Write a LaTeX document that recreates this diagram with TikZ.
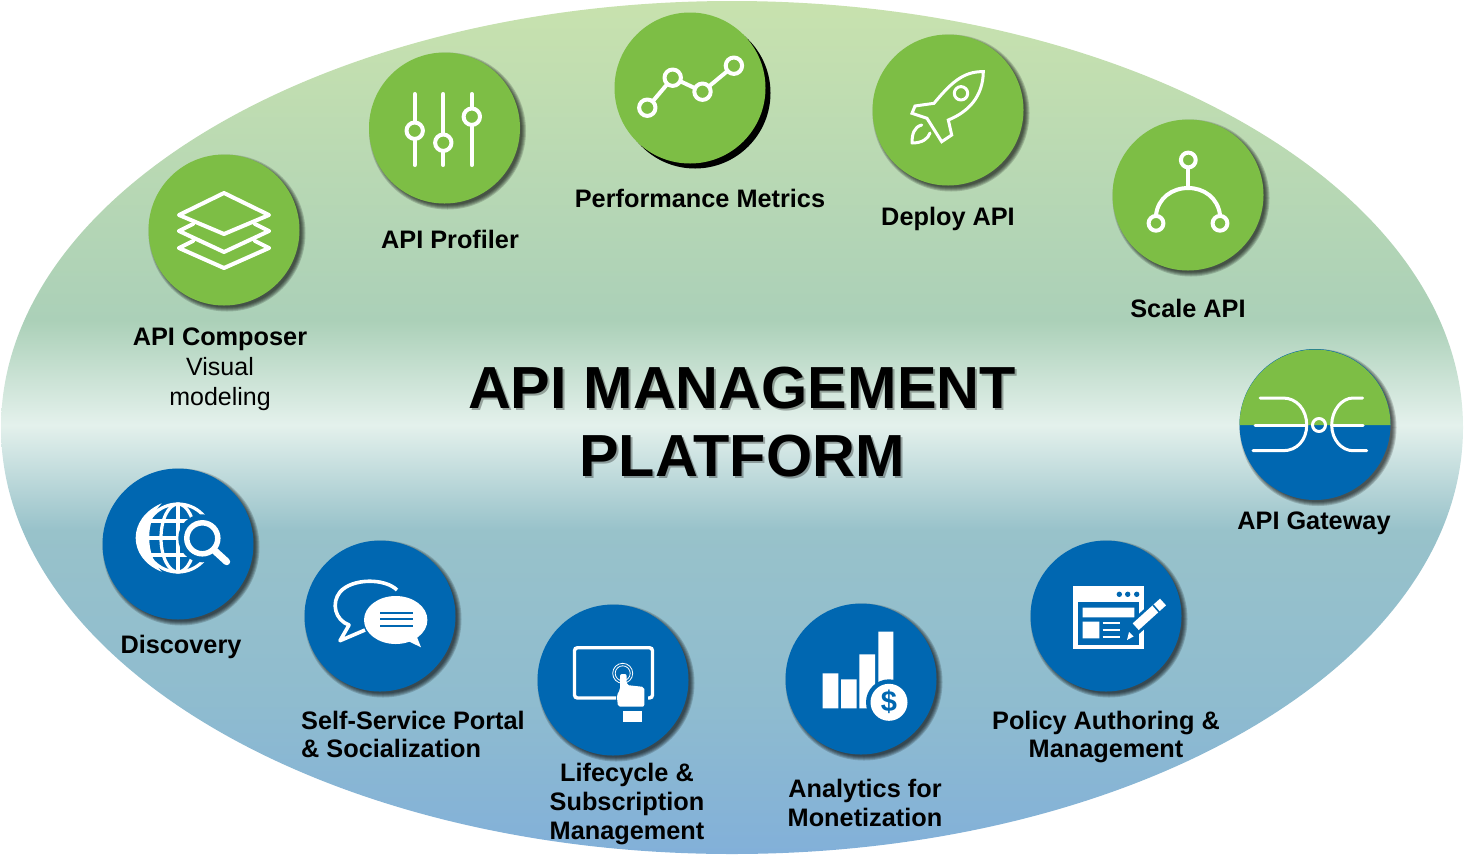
\documentclass[tikz,border=0pt]{standalone}
\usepackage{fontspec}
\setmainfont{Liberation Sans}
\definecolor{grn}{HTML}{7DBE45}
\definecolor{blu}{HTML}{0067B1}
\definecolor{gA}{HTML}{C8E2AE}
\definecolor{gB}{HTML}{ABD0B8}
\definecolor{gC}{HTML}{E4F1EC}
\definecolor{gE}{HTML}{98C2CA}
\definecolor{gF}{HTML}{8FBCCF}
\definecolor{gG}{HTML}{82B0D9}
\pgfdeclareverticalshading{bgshade}{100bp}{
 color(0bp)=(gG); color(25bp)=(gG); color(34bp)=(gF); color(44bp)=(gE); color(50.15bp)=(gC);
 color(56.3bp)=(gB); color(75bp)=(gA); color(100bp)=(gA)}
\tikzset{
 x=1pt,y=-1pt,
 disc/.style={circle,draw=none,inner sep=0pt,minimum size=151pt},
 lab/.style={inner sep=0pt,align=center,font=\fontsize{25.3}{28.7}\selectfont\bfseries,text=black},
 plain/.style={inner sep=0pt,align=center,font=\fontsize{25}{30}\selectfont,text=black},
 ttl/.style={inner sep=0pt,align=center,font=\fontsize{59.4}{68}\selectfont\bfseries},
 ico/.style={draw=white,line width=4pt,line cap=round,line join=round},
}
\newcommand{\softshadow}[2]{%
 \foreach \rr in {78.5,77.5,76.5,75.5,74.5}{\fill[black,opacity=0.17] (#1+3,#2+3) circle[radius=\rr];}}
\newcommand{\ringat}[3]{\draw[ico,fill=#3] (#1,#2) circle[radius=8.2];}
\newcommand{\smallringat}[3]{\draw[ico,fill=#3] (#1,#2) circle[radius=7.4];}
\begin{document}
\begin{tikzpicture}
\useasboundingbox (0,0) rectangle (1464,855);
\path[shading=bgshade] (732,427.5) ellipse[x radius=731,y radius=426.5];
% title
\node[ttl,text=black,opacity=.3] (titleshadow) at (744,424) {API MANAGEMENT\\PLATFORM};
\node[ttl,text=black] (title) at (742,422) {API MANAGEMENT\\PLATFORM};
% ---- API Composer
\softshadow{224}{230}
\node[disc,fill=grn] (composer) at (224,230) {};
\begin{scope}[ico]
\draw (179,248) -- (193,241) (269,248) -- (255,241) (179,248) -- (224,268) -- (269,248);
\draw (179,231) -- (193,224) (269,231) -- (255,224) (179,231) -- (224,252) -- (269,231);
\draw (224,193) -- (269,215) -- (224,234) -- (179,215) -- cycle;
\end{scope}
\node[lab] (composerL) at (220,339) {API Composer};
\node[plain] (composerS) at (220,384) {Visual\\modeling};
% ---- Profiler
\softshadow{444.5}{128}
\node[disc,fill=grn] (profiler) at (444.5,128) {};
\draw[ico] (414.7,94) -- (414.7,165) (443.3,94) -- (443.3,165) (471.8,94) -- (471.8,165);
\ringat{414.7}{130.7}{grn}\ringat{443.3}{142.7}{grn}\ringat{471.8}{116.7}{grn}
\node[lab] (profilerL) at (450,239) {API Profiler};
% ---- Performance
\fill[black] (695,93) circle[radius=75.5];
\node[disc,fill=grn] (perf) at (690,88) {};
\draw[ico] (647.3,107.7) -- (672.7,77.7) -- (702.5,91.7) -- (733.9,65.7);
\ringat{647.3}{107.7}{grn}\ringat{672.7}{77.7}{grn}\ringat{702.5}{91.7}{grn}\ringat{733.9}{65.7}{grn}
\node[lab] (perfL) at (700,198) {Performance Metrics};
% ---- Deploy
\softshadow{948}{110}
\node[disc,fill=grn] (deploy) at (948,110) {};
\draw[ico,line width=3pt,line cap=butt,line join=miter] (983.3,71.7) .. controls (963,71) and (950,84) .. (934,103.3) -- (915,106) -- (912,113.3) -- (927,118.3) -- (941.7,141.7) -- (951.7,135) -- (948.3,120) .. controls (968,112) and (983,97) .. cycle;
\draw[ico,line width=3pt] (961,93.3) circle[radius=6.7];
\draw[ico,line width=3pt] (921.7,125) .. controls (914,127) and (912,134) .. (912,143) .. controls (922,143) and (928,139) .. (930,133);
\node[lab] (deployL) at (948,219) {Deploy API};
% ---- Scale
\softshadow{1188}{195}
\node[disc,fill=grn] (scale) at (1188,195) {};
\draw[ico] (1188.3,168) -- (1188.3,188);
\draw[ico] (1156,215) .. controls (1158,198) and (1172,188) .. (1188.3,188) .. controls (1204,188) and (1218,198) .. (1220,215);
\smallringat{1188.3}{160}{grn}\smallringat{1156}{223.3}{grn}\smallringat{1220}{223.3}{grn}
\node[lab] (scaleL) at (1188,308) {Scale API};
% ---- Gateway
\softshadow{1315}{424.5}
\node[disc,fill=blu] (gateway) at (1315,424.5) {};
\fill[grn] (1239.5,425) arc[start angle=180,end angle=0,x radius=75.5,y radius=-75.5] -- cycle;
\begin{scope}[ico,line width=3pt]
\draw (1260,398) -- (1283,398) .. controls (1297,398) and (1306.7,410) .. (1306.7,425) .. controls (1306.7,440) and (1297,450.7) .. (1283,450.7) -- (1253,450.7);
\draw (1255,425) -- (1306.7,425);
\draw (1362.7,398) -- (1353,398) .. controls (1342,398) and (1331.7,410) .. (1331.7,425) .. controls (1331.7,440) and (1342,450.7) .. (1353,450.7) -- (1366.7,450.7);
\draw (1331.7,425) -- (1363,425);
\draw (1319,425) circle[radius=6.5];
\end{scope}
\node[lab] (gatewayL) at (1314,523) {API Gateway};
% ---- Discovery
\softshadow{178}{544}
\node[disc,fill=blu] (discovery) at (178,544) {};
\fill[white] (161.7,503.3) .. controls (127,518) and (127,558) .. (161.7,571.7) .. controls (145,555) and (145,520) .. cycle;
\begin{scope}[draw=white,line width=3.2pt]
\draw (178,538) ellipse[x radius=34,y radius=34];
\draw (178,538) ellipse[x radius=17,y radius=34];
\draw (178,504) -- (178,572);
\draw (146,521) -- (210,521) (144,538) -- (212,538) (146,555) -- (210,555);
\end{scope}
\fill[blu] (202.3,538.3) circle[radius=24];
\draw[blu,line width=12pt,line cap=round] (216,552) -- (228,563);
\draw[white,line width=5.5pt,fill=blu] (202.3,538.3) circle[radius=15.5];
\draw[white,line width=7pt,line cap=round] (215,551) -- (226.7,561.7);
\node[lab] (discoveryL) at (181,647) {Discovery};
% ---- Self-service
\softshadow{380}{616}
\node[disc,fill=blu] (portal) at (380,616) {};
\draw[white,line width=3.6pt,line join=round,fill=blu] (397,590) .. controls (385,578) and (352,578) .. (340,592) .. controls (331,603) and (335,620) .. (349,625) -- (340,640.7) -- (365,630);
\fill[white] (395.7,620) ellipse[x radius=31.7,y radius=24];
\fill[white] (406,640) -- (421,647.3) -- (415,632) -- cycle;
\draw[blu,line width=2.4pt] (380,612.7) -- (412.7,612.7) (380,619.2) -- (412.7,619.2) (380,625.7) -- (412.7,625.7);
\node[lab,align=left] (portalL) at (413,734.5) {Self-Service Portal\\\& Socialization};
% ---- Lifecycle
\softshadow{613}{680}
\node[disc,fill=blu] (lifecycle) at (613,680) {};
\draw[white,line width=3.4pt,rounded corners=3pt] (616,698) -- (574.5,698) -- (574.5,647.7) -- (652.5,647.7) -- (652.5,698) -- (648,698);
\draw[white,line width=.8pt] (622.7,673.3) circle[radius=10] (622.7,673.3) circle[radius=7.5];
\fill[white,rounded corners=2pt] (620,674) -- (626.7,674) -- (626.7,685) -- (644.3,687) -- (644.3,706.7) -- (618,706.7) -- (616.7,695) -- (620,690) -- cycle;
\fill[white] (622.7,710.7) rectangle (641.7,721.7);
\node[lab] (lifecycleL) at (627,804) {Lifecycle \&\\Subscription\\Management};
% ---- Analytics
\softshadow{861}{679}
\node[disc,fill=blu] (analytics) at (861,679) {};
\fill[white] (822.7,673.3) rectangle (838.3,708.3) (841,679.3) rectangle (856.7,708.3) (859.3,654.3) rectangle (875,708.3) (878.3,631.7) rectangle (893.3,690);
\fill[blu] (889,702.3) circle[radius=23];
\fill[white] (889,702.3) circle[radius=18.5];
\node[inner sep=0pt,text=blu,font=\fontsize{29}{30}\selectfont\bfseries] (dollar) at (889,702.3) {\$};
\node[lab] (analyticsL) at (865,803) {Analytics for\\Monetization};
% ---- Policy
\softshadow{1106}{616}
\node[disc,fill=blu] (policy) at (1106,616) {};
\fill[white] (1073.3,586) rectangle (1144.3,649.3);
\fill[blu] (1078.3,602.3) rectangle (1139.3,645);
\fill[blu] (1119.3,594.3) circle[radius=2.7] (1127.7,594.3) circle[radius=2.7] (1136.7,594.3) circle[radius=2.7];
\fill[white] (1082.7,607.7) rectangle (1134.3,617.3) (1082.7,621.7) rectangle (1099.3,638.3);
\draw[white,line width=1.8pt] (1102.7,623) -- (1120,623) (1102.7,629.7) -- (1120,629.7) (1102.7,636.7) -- (1120,636.7);
\draw[blu,line width=15pt] (1131,631) -- (1160,605);
\draw[white,line width=9pt] (1135.7,626.7) -- (1163,602);
\draw[blu,line width=1.6pt] (1153,605) -- (1160,613);
\fill[white] (1127,640) -- (1133.5,636.5) -- (1129,632) -- cycle;
\node[lab] (policyL) at (1106,737) {Policy Authoring \&\\Management};
\end{tikzpicture}
\end{document}
